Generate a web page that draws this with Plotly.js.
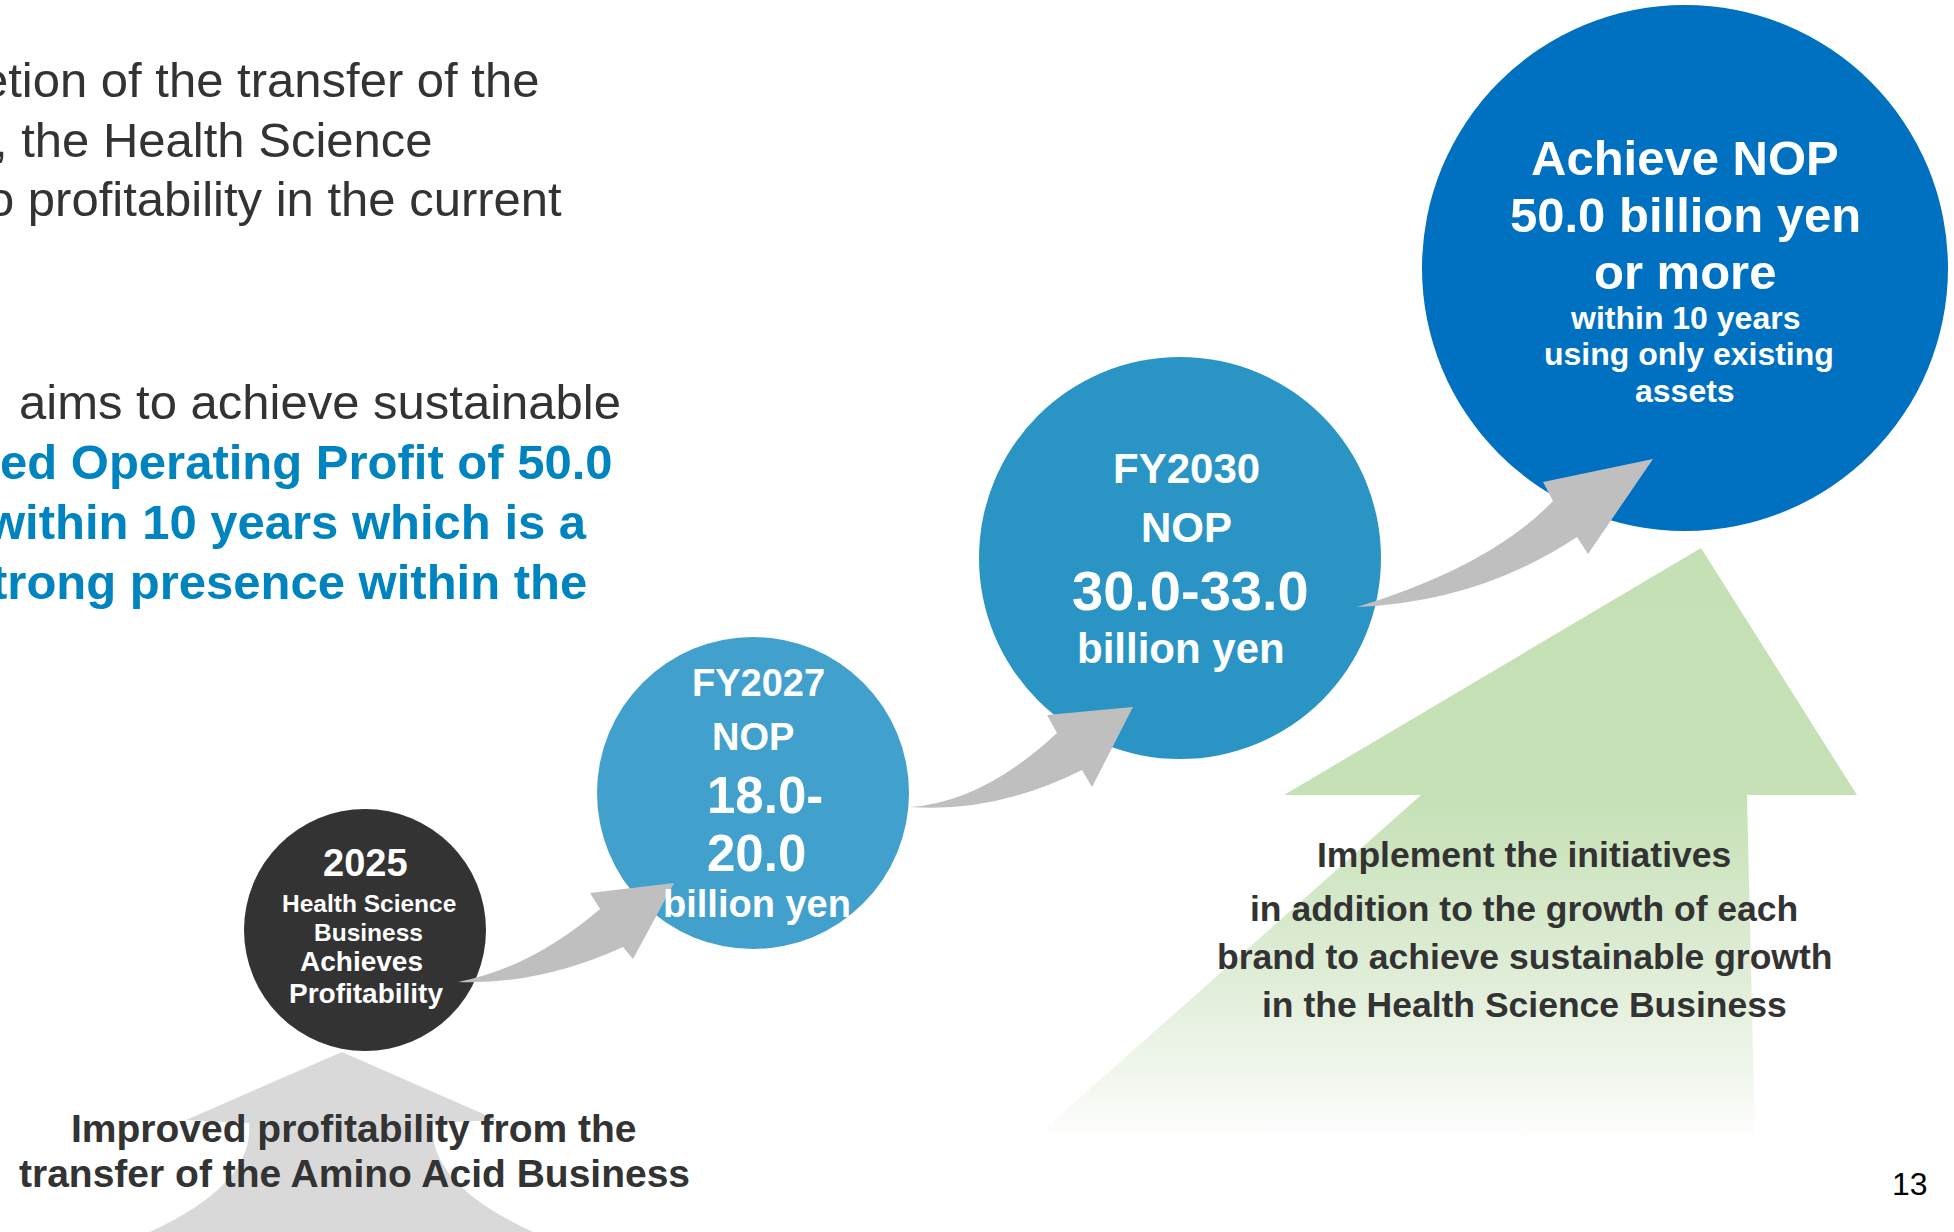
<!DOCTYPE html>
<html>
<head>
<meta charset="utf-8">
<script src="https://cdn.plot.ly/plotly-3.0.1.min.js"></script>
<style>
html,body{margin:0;padding:0;background:#ffffff;overflow:hidden;}
#chart{width:1954px;height:1232px;}
</style>
</head>
<body>
<div id="chart"></div>
<script>
// ---------------- DATA (texts and values) ----------------
const introLines = [
  'etion of the transfer of the',
  ', the Health Science',
  'o profitability in the current'
];
const aimLine = 'aims to achieve sustainable';
const highlightLines = [
  'ed Operating Profit of 50.0',
  'within 10 years which is a',
  'trong presence within the'
];
const stage2025 = ['2025', 'Health Science', 'Business', 'Achieves', 'Profitability'];
const stageFY2027 = ['FY2027', 'NOP', '18.0-', '20.0', 'billion yen'];
const stageFY2030 = ['FY2030', 'NOP', '30.0-33.0', 'billion yen'];
const stageGoal = ['Achieve NOP', '50.0 billion yen', 'or more', 'within 10 years', 'using only existing', 'assets'];
const baseText = ['Improved profitability from the', 'transfer of the Amino Acid Business'];
const growthText = ['Implement the initiatives', 'in addition to the growth of each',
                    'brand to achieve sustainable growth', 'in the Health Science Business'];
const pageNumber = '13';

// ---------------- LAYOUT / GEOMETRY (pixel space) ----------------
const W = 1954, H = 1232;
const FONT = '"Liberation Sans", Arial, Helvetica, sans-serif';
const DARK = '#333333', BLUE_TXT = '#0084C0', WHITE = '#ffffff';

const circles = [
  {cx: 365,  cy: 930, r: 121, color: '#333333'},
  {cx: 753,  cy: 793, r: 156, color: '#42A1CC'},
  {cx: 1180, cy: 558, r: 201, color: '#2A95C5'},
  {cx: 1685, cy: 268, r: 263, color: '#0070C0'}
];

// per-line placement [x, y, size, anchor]
const pos2025   = [[365,863,38,'center'],[369,903,24.5,'center'],[368,932,24.5,'center'],[361,961,28,'center'],[366,993,28,'center']];
const posFY2027 = [[758,683,38,'center'],[753,737,38,'center'],[706,795,51,'left'],[706,853,51,'left'],[757,904,38,'center']];
const posFY2030 = [[1186,468,42,'center'],[1186,527,42,'center'],[1190,590,56,'center'],[1181,648,42,'center']];
const posGoal   = [[1685,158,49,'center'],[1685,215,49,'center'],[1685,272,49,'center'],[1685,318,32,'center'],[1689,354,32,'center'],[1685,391,32,'center']];

const arrows = [
  {tail:[458,982], cu:[531,968], nu:[600,909], wu:[590,893], tip:[674,883], wl:[633,959], nl:[623,947], cl:[540,985]},
  {tail:[910,807], cu:[983,802], nu:[1057,733], wu:[1047,715], tip:[1133,707], wl:[1092,787], nl:[1082,770], cl:[996,813]},
  {tail:[1357,607], cu:[1491,566], nu:[1553,501], wu:[1543,482], tip:[1653,459], wl:[1588,554], nl:[1577,537], cl:[1479,602]}
];

const greenArrow = {
  xs: [1701, 1857, 1747, 1755, 1032, 1421, 1284, 1701],
  ys: [548, 795, 795, 1140, 1140, 795, 795, 548]
};

// ---------------- BUILD ----------------
function p(pt){ return pt[0] + ',' + pt[1]; }

const shapes = [];

// bottom light-gray up arrow (below the 2025 circle)
shapes.push({
  type: 'path', xref: 'x', yref: 'y', layer: 'above',
  path: 'M342,1052 L497,1120 L433,1123 Q427,1186 542,1236 L141,1236 Q255,1186 249,1123 L186,1120 Z',
  fillcolor: '#D9D9D9', line: {width: 0}
});

circles.forEach(c => {
  shapes.push({
    type: 'circle', xref: 'x', yref: 'y', layer: 'above',
    x0: c.cx - c.r, x1: c.cx + c.r, y0: c.cy - c.r, y1: c.cy + c.r,
    fillcolor: c.color, line: {width: 0}
  });
});

arrows.forEach(a => {
  shapes.push({
    type: 'path', xref: 'x', yref: 'y', layer: 'above',
    path: 'M' + p(a.tail) + ' Q' + p(a.cu) + ' ' + p(a.nu) + ' L' + p(a.wu) + ' L' + p(a.tip) +
          ' L' + p(a.wl) + ' L' + p(a.nl) + ' Q' + p(a.cl) + ' ' + p(a.tail) + ' Z',
    fillcolor: '#BFBFBF', line: {width: 0}
  });
});

const annotations = [];
function addText(text, x, y, size, color, bold, anchor){
  annotations.push({
    xref: 'x', yref: 'y', x: x, y: y, xanchor: anchor || 'center', yanchor: 'middle',
    text: bold ? '<b>' + text + '</b>' : text, showarrow: false,
    font: {family: FONT, size: size, color: color}, borderpad: 0
  });
}

// intro paragraph (left side, cut at the canvas edge like the reference)
const introX = [540, 434, 563];
const introY = [80, 140, 199];
introLines.forEach((t, i) => addText(t, introX[i], introY[i], 49, DARK, false, 'right'));
addText(aimLine, 622, 402, 49, DARK, false, 'right');
const hlX = [614, 588, 588];
const hlY = [462, 522, 582];
highlightLines.forEach((t, i) => addText(t, hlX[i], hlY[i], 49, BLUE_TXT, true, 'right'));

function stageText(lines, posArr){
  lines.forEach((t, i) => {
    const q = posArr[i];
    addText(t, q[0], q[1], q[2], WHITE, true, q[3]);
  });
}
stageText(stage2025, pos2025);
stageText(stageFY2027, posFY2027);
stageText(stageFY2030, posFY2030);
stageText(stageGoal, posGoal);

const baseY = [1128, 1173];
baseText.forEach((t, i) => addText(t, 354, baseY[i], 39, DARK, true, 'center'));
const growY = [855, 909, 957, 1005];
growthText.forEach((t, i) => addText(t, 1524, growY[i], 35.5, DARK, true, 'center'));

addText(pageNumber, 1910, 1184, 32, '#000000', false, 'center');

const traces = [{
  type: 'scatter', mode: 'lines',
  x: greenArrow.xs, y: greenArrow.ys,
  fill: 'toself',
  line: {width: 0, color: 'rgba(0,0,0,0)'},
  fillgradient: {
    type: 'vertical', start: 548, stop: 1140,
    colorscale: [[0, '#C5E0B4'], [0.42, '#C6E1B6'], [0.72, '#DFEDD6'], [0.9, '#F2F7EF'], [1, '#FFFFFF']]
  },
  hoverinfo: 'skip', showlegend: false
}];

const layout = {
  width: W, height: H,
  margin: {l: 0, r: 0, t: 0, b: 0, pad: 0},
  paper_bgcolor: '#ffffff', plot_bgcolor: '#ffffff',
  showlegend: false,
  xaxis: {range: [0, W], visible: false, showgrid: false, zeroline: false, fixedrange: true},
  yaxis: {range: [H, 0], visible: false, showgrid: false, zeroline: false, fixedrange: true},
  shapes: shapes,
  annotations: annotations
};

Plotly.newPlot('chart', traces, layout, {displayModeBar: false, staticPlot: true});
</script>
</body>
</html>
